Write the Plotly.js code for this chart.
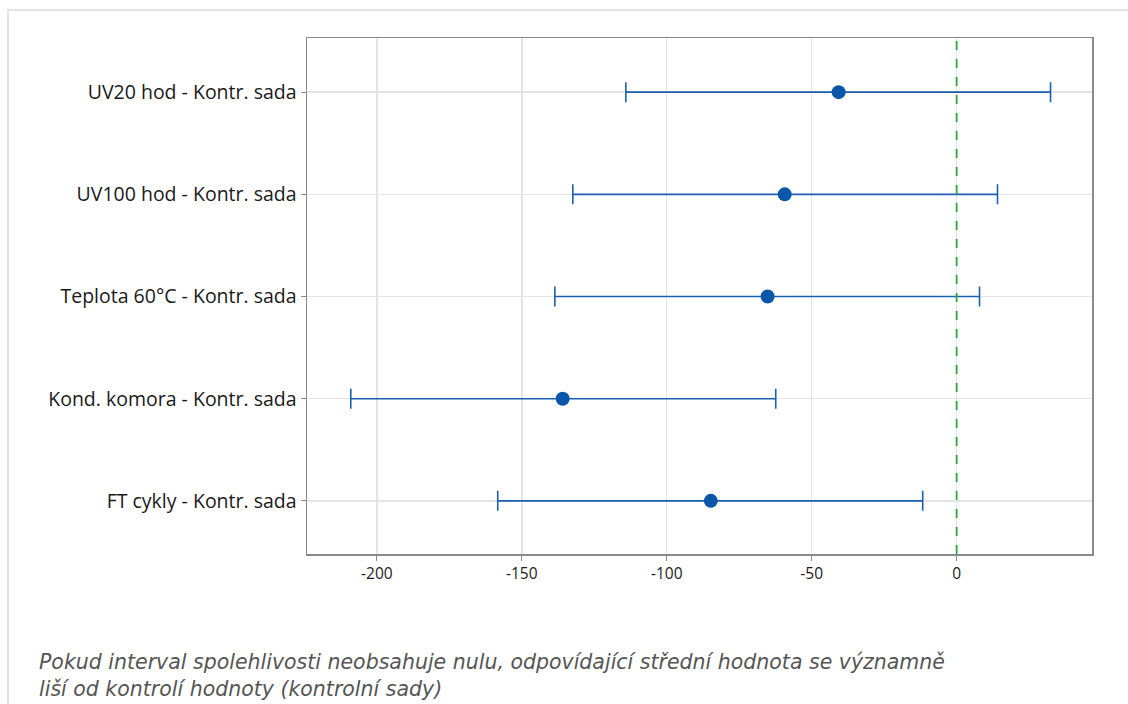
<!DOCTYPE html>
<html>
<head>
<meta charset="utf-8">
<script src="https://cdn.plot.ly/plotly-3.0.1.min.js"></script>
<style>
html,body{margin:0;padding:0;background:#fff;overflow:hidden;}
#frame{position:absolute;left:7px;top:9px;width:1140px;height:720px;border:2px solid #e3e3e3;box-sizing:border-box;}
#chart{position:absolute;left:0;top:0;width:1128px;height:704px;}
</style>
</head>
<body>
<div id="frame"></div>
<div id="chart"></div>
<script>
const categories = ["UV20 hod - Kontr. sada","UV100 hod - Kontr. sada","Teplota 60°C - Kontr. sada","Kond. komora - Kontr. sada","FT cykly - Kontr. sada"];
const estimates = [-40.7, -59.3, -65.2, -135.9, -84.8];
const lowerCI = [-114.1, -132.4, -138.6, -209.0, -158.3];
const upperCI = [32.4, 14.1, 7.9, -62.4, -11.7];
const xTicks = [-200, -150, -100, -50, 0];
const caption = "Pokud interval spolehlivosti neobsahuje nulu, odpovídající střední hodnota se významně<br>liší od kontrolí hodnoty (kontrolní sady)";

const yIdx = categories.map((c,i)=>i);
const trace = {
  type:'scatter', mode:'markers',
  x: estimates, y: yIdx,
  marker:{symbol:'circle', size:14, color:'#0a56a8'},
  error_x:{type:'data', symmetric:false,
    array: upperCI.map((u,i)=>u-estimates[i]),
    arrayminus: estimates.map((e,i)=>e-lowerCI[i]),
    color:'#1a5fb0', thickness:1.6, width:10},
  hoverinfo:'x+y', showlegend:false
};
const layout = {
  width:1128, height:704,
  margin:{l:307, r:36, t:38, b:150, pad:0},
  paper_bgcolor:'rgba(0,0,0,0)', plot_bgcolor:'#fff',
  font:{family:'"Open Sans", "Noto Sans", sans-serif', color:'#222', size:14},
  xaxis:{range:[-224.1, 46.7], tickvals:xTicks, ticktext:xTicks.map(String),
    showgrid:true, gridcolor:'#e4e4e4', gridwidth:1.5, zeroline:false,
    showline:true, linecolor:'#8a8a8a', linewidth:1.5, mirror:true,
    ticks:'outside', ticklen:5, tickcolor:'#8a8a8a', tickfont:{size:15.5, color:'#1a1a1a'}},
  yaxis:{range:[4.52, -0.53], tickvals:yIdx, ticktext:categories,
    showgrid:true, gridcolor:'#e4e4e4', gridwidth:1.5, zeroline:false,
    showline:true, linecolor:'#8a8a8a', linewidth:1.5, mirror:true,
    ticks:'outside', ticklen:5, tickcolor:'#8a8a8a', tickfont:{size:19.5, color:'#1a1a1a', weight:500}},
  shapes:[{type:'line', xref:'x', yref:'paper', x0:0, x1:0, y0:0, y1:1,
    line:{color:'#2ca643', width:1.8, dash:'dash'}}],
  annotations:[{xref:'paper', yref:'paper', x:-0.344, y:-0.182, xanchor:'left', yanchor:'top',
    align:'left', showarrow:false, text:'<i>'+caption+'</i>',
    font:{size:20.5, color:'#555', family:'"DejaVu Sans", sans-serif', weight:200}}]
};
Plotly.newPlot('chart',[trace],layout,{displayModeBar:false, staticPlot:true});
</script>
</body>
</html>
